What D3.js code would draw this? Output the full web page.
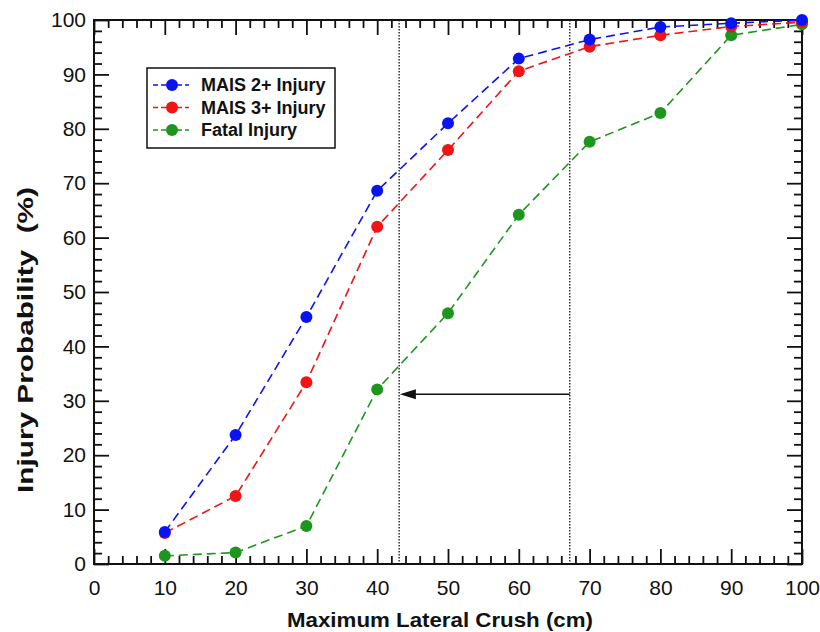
<!DOCTYPE html>
<html><head><meta charset="utf-8">
<script src="https://cdn.jsdelivr.net/npm/d3@7"></script>
<style>body{margin:0;background:#fff}svg{display:block}</style>
</head><body>
<svg id="c" width="820" height="632"></svg>
<script>
const crush = [10, 20, 30, 40, 50, 60, 70, 80, 90, 100];
const mais2 = [5.9, 23.7, 45.4, 68.6, 81.0, 92.9, 96.4, 98.7, 99.4, 100];
const mais3 = [5.7, 12.5, 33.4, 62.0, 76.1, 90.6, 95.1, 97.2, 98.8, 99.6];
const fatal = [1.5, 2.1, 7.0, 32.1, 46.1, 64.2, 77.6, 82.9, 97.2, 99.2];
const seriesNames = ["MAIS 2+ Injury", "MAIS 3+ Injury", "Fatal Injury"];
const seriesColors = ["#0a14f0", "#f01414", "#1e961e"];
const refLinesX = [43.1, 67.2];
const arrowFrom = [67.2, 31.2];
const arrowTo = [43.2, 31.2];
const xTicks = [0,10,20,30,40,50,60,70,80,90,100];
const yTicks = [0,10,20,30,40,50,60,70,80,90,100];

const svg = d3.select("#c");
const L = 94, R = 802, T = 20, B = 564;
const x = d3.scaleLinear().domain([0,100]).range([L,R]);
const y = d3.scaleLinear().domain([0,100]).range([B,T]);
const minor = d3.range(0, 101, 2).filter(v => v % 10 !== 0);
const font = "Arial, 'Liberation Sans', sans-serif";

// reference dotted lines
svg.selectAll(".ref").data(refLinesX).enter().append("line")
  .attr("x1", d=>x(d)).attr("x2", d=>x(d)).attr("y1", T).attr("y2", B)
  .attr("stroke", "#111").attr("stroke-width", 1.3).attr("stroke-dasharray", "1.5,1.5");

// arrow
svg.append("line").attr("x1", x(arrowFrom[0])).attr("y1", y(arrowFrom[1]))
  .attr("x2", x(arrowTo[0]) + 14).attr("y2", y(arrowTo[1]))
  .attr("stroke", "#111").attr("stroke-width", 1.6);
const ax = x(arrowTo[0]), ay = y(arrowTo[1]);
svg.append("path").attr("d", `M${ax},${ay} L${ax+16},${ay-5} L${ax+16},${ay+5} Z`).attr("fill", "#111");

// axes
function addAxis(gen, tx, ty, vals, size, labels) {
  const g = svg.append("g").attr("transform", `translate(${tx},${ty})`)
    .call(gen.tickValues(vals).tickSize(size).tickSizeOuter(0).tickFormat(labels ? d3.format("d") : ""));
  g.select(".domain").remove();
  g.selectAll(".tick line").attr("stroke", "#111").attr("stroke-width", 1.8);
  g.selectAll("text").attr("font-family", font).attr("font-size", 21).attr("fill", "#111");
  return g;
}
const gb = addAxis(d3.axisBottom(x), 0, B, xTicks, -15, true);
gb.selectAll("text").attr("dy", null).attr("y", 31);
addAxis(d3.axisBottom(x), 0, B, minor, -8, false);
addAxis(d3.axisTop(x), 0, T, xTicks, -15, false);
addAxis(d3.axisTop(x), 0, T, minor, -8, false);
const gl = addAxis(d3.axisLeft(y), L, 0, yTicks, -15, true);
gl.selectAll("text").attr("x", -8);
addAxis(d3.axisLeft(y), L, 0, minor, -8, false);
addAxis(d3.axisRight(y), R, 0, yTicks, -15, false);
addAxis(d3.axisRight(y), R, 0, minor, -8, false);

svg.append("rect").attr("x", L).attr("y", T).attr("width", R-L).attr("height", B-T)
  .attr("fill", "none").attr("stroke", "#111").attr("stroke-width", 2);

// series
const allSeries = [mais2, mais3, fatal];
const line = d3.line().x((d,i)=>x(crush[i])).y(d=>y(d));
[2,1,0].forEach(k => {
  svg.append("path").datum(allSeries[k]).attr("d", line).attr("fill", "none")
    .attr("stroke", seriesColors[k]).attr("stroke-width", 1.6).attr("stroke-dasharray", "9,5");
});
[2,1,0].forEach(k => {
  svg.selectAll(".pt"+k).data(allSeries[k]).enter().append("circle")
    .attr("cx", (d,i)=>x(crush[i])).attr("cy", d=>y(d)).attr("r", 6)
    .attr("fill", seriesColors[k]);
});

// legend
const lg = svg.append("g");
lg.append("rect").attr("x", 147).attr("y", 68).attr("width", 188).attr("height", 80)
  .attr("fill", "#fff").attr("stroke", "#111").attr("stroke-width", 1.5);
seriesNames.forEach((n, k) => {
  const cy = 85 + k * 22.5;
  lg.append("line").attr("x1", 153).attr("x2", 189).attr("y1", cy).attr("y2", cy)
    .attr("stroke", seriesColors[k]).attr("stroke-width", 1.5).attr("stroke-dasharray", "5,3");
  lg.append("circle").attr("cx", 172).attr("cy", cy).attr("r", 6).attr("fill", seriesColors[k]);
  lg.append("text").attr("x", 201).attr("y", cy).attr("dy", "0.36em").text(n)
    .attr("font-family", font).attr("font-size", 18).attr("font-weight", "bold").attr("fill", "#111");
});

// titles
svg.append("text").attr("x", 440).attr("y", 627).attr("text-anchor", "middle")
  .attr("font-family", font).attr("font-size", 20).attr("font-weight", "bold").attr("fill", "#111")
  .attr("textLength", 306).attr("lengthAdjust", "spacingAndGlyphs")
  .text("Maximum Lateral Crush (cm)");
svg.append("text").attr("transform", "translate(33,340) rotate(-90)").attr("text-anchor", "middle")
  .attr("font-family", font).attr("font-size", 22).attr("font-weight", "bold").attr("fill", "#111")
  .attr("textLength", 306).attr("lengthAdjust", "spacingAndGlyphs")
  .attr("xml:space", "preserve").text("Injury Probability  (%)");
</script>
</body></html>
